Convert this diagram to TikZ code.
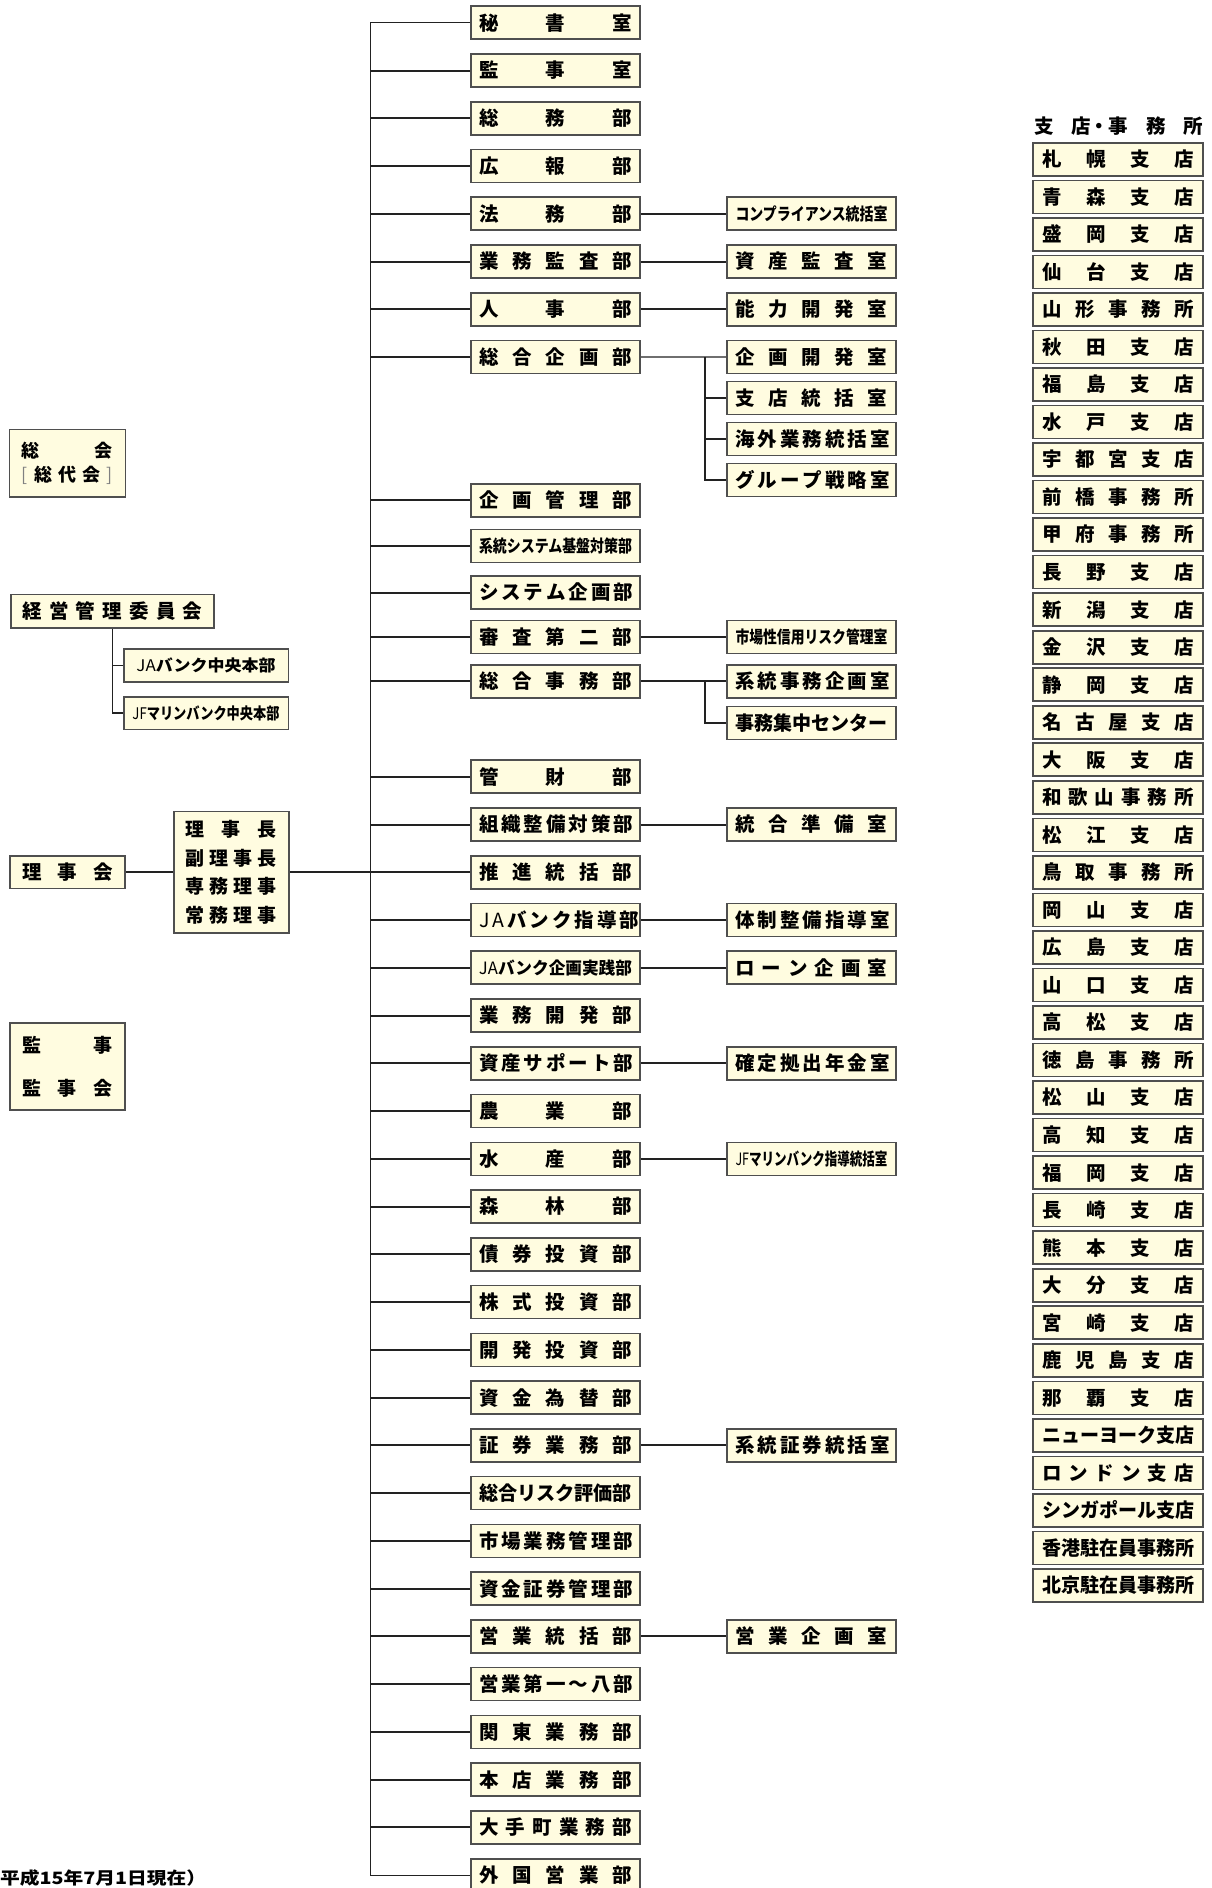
\documentclass[tikz,border=0pt]{standalone}
\usepackage{fontspec}
\usepackage{graphicx}
\setmainfont{Noto Sans CJK JP}
\definecolor{fillc}{HTML}{FFFCE0}
\definecolor{boxc}{HTML}{4F4F4F}
\definecolor{linec}{HTML}{222222}
\newcommand{\spr}[2]{\makebox[#1][s]{#2}}
\newcommand{\sqz}[2]{\resizebox{#1}{\height}{#2}}
\begin{document}
\begin{tikzpicture}[x=1pt,y=-1pt,
 box/.style={draw=boxc, fill=fillc, line width=1.6pt, inner sep=0pt, minimum height=33pt, font=\fontsize{19.5pt}{22pt}\selectfont\bfseries},
 mbox/.style={box, minimum width=169pt},
 rbox/.style={box, minimum width=170pt},
 sm/.style={font=\fontsize{17pt}{20pt}\selectfont\bfseries},
 conn/.style={draw=linec, line width=2pt},
 thinconn/.style={draw=linec!65, line width=1.2pt},
 trunkl/.style={draw=linec, line width=1.4pt}]
\useasboundingbox (0,0) rectangle (1211,1888);
\fill[white] (0,0) rectangle (1211,1888);

% ---------- main column ----------
\node[mbox] (m1) at (555.5,22.7) {\spr{153pt}{秘 書 室}};
\node[mbox] (m2) at (555.5,70.5) {\spr{153pt}{監 事 室}};
\node[mbox] (m3) at (555.5,118.2) {\spr{153pt}{総 務 部}};
\node[mbox] (m4) at (555.5,166.0) {\spr{153pt}{広 報 部}};
\node[mbox] (m5) at (555.5,213.7) {\spr{153pt}{法 務 部}};
\node[mbox] (m6) at (555.5,261.5) {\spr{153pt}{業 務 監 査 部}};
\node[mbox] (m7) at (555.5,309.3) {\spr{153pt}{人 事 部}};
\node[mbox] (m8) at (555.5,357.0) {\spr{153pt}{総 合 企 画 部}};
\node[mbox] (m9) at (555.5,500.3) {\spr{153pt}{企 画 管 理 部}};
\node[mbox,sm] (m10) at (555.5,545.8) {\sqz{153pt}{系統システム基盤対策部}};
\node[mbox] (m11) at (555.5,592.5) {\spr{153pt}{シ ス テ ム 企 画 部}};
\node[mbox] (m12) at (555.5,637.0) {\spr{153pt}{審 査 第 二 部}};
\node[mbox] (m13) at (555.5,681.3) {\spr{153pt}{総 合 事 務 部}};
\node[mbox] (m14) at (555.5,776.7) {\spr{153pt}{管 財 部}};
\node[mbox] (m15) at (555.5,824.5) {\spr{153pt}{組 織 整 備 対 策 部}};
\node[mbox] (m16) at (555.5,872.2) {\spr{153pt}{推 進 統 括 部}};
\node[mbox] (m17) at (555.5,920.0) {\spr{153pt}{{\mdseries J} {\mdseries A} バ ン ク 指 導 部}};
\node[mbox,sm] (m18) at (555.5,967.7) {\sqz{153pt}{{\mdseries JA}バンク企画実践部}};
\node[mbox] (m19) at (555.5,1015.5) {\spr{153pt}{業 務 開 発 部}};
\node[mbox] (m20) at (555.5,1063.3) {\spr{153pt}{資 産 サ ポ ー ト 部}};
\node[mbox] (m21) at (555.5,1111.0) {\spr{153pt}{農 業 部}};
\node[mbox] (m22) at (555.5,1158.8) {\spr{153pt}{水 産 部}};
\node[mbox] (m23) at (555.5,1206.5) {\spr{153pt}{森 林 部}};
\node[mbox] (m24) at (555.5,1254.3) {\spr{153pt}{債 券 投 資 部}};
\node[mbox] (m25) at (555.5,1302.1) {\spr{153pt}{株 式 投 資 部}};
\node[mbox] (m26) at (555.5,1349.8) {\spr{153pt}{開 発 投 資 部}};
\node[mbox] (m27) at (555.5,1397.6) {\spr{153pt}{資 金 為 替 部}};
\node[mbox] (m28) at (555.5,1445.3) {\spr{153pt}{証 券 業 務 部}};
\node[mbox] (m29) at (555.5,1493.1) {\sqz{153pt}{総合リスク評価部}};
\node[mbox] (m30) at (555.5,1540.9) {\spr{153pt}{市 場 業 務 管 理 部}};
\node[mbox] (m31) at (555.5,1588.6) {\spr{153pt}{資 金 証 券 管 理 部}};
\node[mbox] (m32) at (555.5,1636.4) {\spr{153pt}{営 業 統 括 部}};
\node[mbox] (m33) at (555.5,1684.1) {\spr{153pt}{営 業 第 一 ～ 八 部}};
\node[mbox] (m34) at (555.5,1731.9) {\spr{153pt}{関 東 業 務 部}};
\node[mbox] (m35) at (555.5,1779.7) {\spr{153pt}{本 店 業 務 部}};
\node[mbox] (m36) at (555.5,1827.4) {\spr{153pt}{大 手 町 業 務 部}};
\node[mbox] (m37) at (555.5,1875.2) {\spr{153pt}{外 国 営 業 部}};

% ---------- trunk ----------
\coordinate (tt) at (370.4,22.7);
\coordinate (tb) at (370.4,1875.2);
\draw[trunkl] (m1.west) -- (tt) -- (tb) -- (m37.west);
\foreach \n in {2,...,36} \draw[conn] (m\n.west) -- (m\n.west -| tt);

% ---------- sub offices ----------
\node[mbox,sm] (s5) at (811.5,213.7) {\sqz{152pt}{コンプライアンス統括室}};
\node[mbox] (s6) at (811.5,261.5) {\spr{152pt}{資 産 監 査 室}};
\node[mbox] (s7) at (811.5,309.3) {\spr{152pt}{能 力 開 発 室}};
\node[mbox] (s8a) at (811.5,357.0) {\spr{152pt}{企 画 開 発 室}};
\node[mbox] (s8b) at (811.5,398.0) {\spr{152pt}{支 店 統 括 室}};
\node[mbox] (s8c) at (811.5,439.0) {\spr{152pt}{海 外 業 務 統 括 室}};
\node[mbox] (s8d) at (811.5,480.0) {\spr{152pt}{グ ル ー プ 戦 略 室}};
\node[mbox,sm] (s12) at (811.5,637.0) {\sqz{152pt}{市場性信用リスク管理室}};
\node[mbox] (s13a) at (811.5,681.3) {\spr{152pt}{系 統 事 務 企 画 室}};
\node[mbox] (s13b) at (811.5,723.0) {\sqz{152pt}{事務集中センター}};
\node[mbox] (s15) at (811.5,824.5) {\spr{152pt}{統 合 準 備 室}};
\node[mbox] (s17) at (811.5,920.0) {\spr{152pt}{体 制 整 備 指 導 室}};
\node[mbox] (s18) at (811.5,967.7) {\spr{152pt}{ロ ー ン 企 画 室}};
\node[mbox] (s20) at (811.5,1063.3) {\spr{152pt}{確 定 拠 出 年 金 室}};
\node[mbox,sm] (s22) at (811.5,1158.8) {\sqz{152pt}{{\mdseries JF}マリンバンク指導統括室}};
\node[mbox] (s28) at (811.5,1445.3) {\spr{152pt}{系 統 証 券 統 括 室}};
\node[mbox] (s32) at (811.5,1636.4) {\spr{152pt}{営 業 企 画 室}};

\foreach \a/\b in {m5/s5,m6/s6,m7/s7,m12/s12,m13/s13a,m15/s15,m17/s17,m18/s18,m20/s20,m22/s22,m28/s28,m32/s32}
  \draw[conn] (\a.east) -- (\b.west);
\coordinate (bx) at (705,0);
\draw[thinconn] (m8.east) -- (s8a.west);
\draw[conn] (bx |- s8a.west) |- (s8d.west);
\foreach \s in {s8b,s8c} \draw[conn] (bx |- \s.west) -- (\s.west);
\draw[conn] (bx |- s13a.west) |- (s13b.west);

% ---------- left column ----------
\node[box, minimum width=116pt, minimum height=67.4pt, align=center,
      font=\fontsize{18pt}{24pt}\selectfont\bfseries] (sokai) at (67.3,463)
  {\spr{91pt}{総 会}\\\spr{91pt}{\textcolor{gray}{\mdseries [} 総 代 会 \textcolor{gray}{\mdseries ]}}};

\node[box, minimum width=203.3pt, minimum height=33.6pt] (kk) at (112.35,611.2) {\spr{180pt}{経 営 管 理 委 員 会}};
\node[box, minimum width=164.6pt, font=\fontsize{16pt}{18pt}\selectfont\bfseries] (ja) at (206,665.5) {\sqz{139pt}{{\mdseries JA}バンク中央本部}};
\node[box, minimum width=164.6pt, minimum height=32.6pt, font=\fontsize{16pt}{18pt}\selectfont\bfseries] (jf) at (206,713.1) {\sqz{147pt}{{\mdseries JF}マリンバンク中央本部}};
\draw[conn, line width=1.6pt] (kk.south) |- (jf.west);
\draw[conn, line width=1.6pt] (kk.south |- ja.west) -- (ja.west);

\node[box, minimum width=115pt, minimum height=32.4pt] (rk) at (67.5,872.2) {\spr{91pt}{理 事 会}};
\node[box, minimum width=115.3pt, minimum height=121.8pt, align=center,
      font=\fontsize{19pt}{28.6pt}\selectfont\bfseries] (rc) at (231.35,872.2)
  {\spr{91pt}{理 事 長}\\\spr{91pt}{副 理 事 長}\\\spr{91pt}{専 務 理 事}\\\spr{91pt}{常 務 理 事}};
\draw[conn] (rk.east) -- (rc.west);
\draw[conn] (rc.east) -- (rc.east -| tt);

\node[box, minimum width=115pt, minimum height=87pt, align=center,
      font=\fontsize{19pt}{42.4pt}\selectfont\bfseries] (kanji) at (67.5,1066.6)
  {\spr{91pt}{監 事}\\\spr{91pt}{監 事 会}};

\node[font=\fontsize{17pt}{20pt}\selectfont\bfseries, anchor=west, inner sep=0pt] (date) at (0,1878)
  {\sqz{206pt}{平成15年7月1日現在）}};

% ---------- branches ----------
\node[font=\fontsize{19.5pt}{22pt}\selectfont\bfseries, inner sep=0pt] (hdr) at (1118.5,126)
  {\spr{169pt}{支 店\rlap{\kern-1pt ・} 事 務 所}};

\foreach \t [count=\i from 0] in {
 {\spr{152pt}{札 幌 支 店}},{\spr{152pt}{青 森 支 店}},{\spr{152pt}{盛 岡 支 店}},{\spr{152pt}{仙 台 支 店}},
 {\spr{152pt}{山 形 事 務 所}},{\spr{152pt}{秋 田 支 店}},{\spr{152pt}{福 島 支 店}},{\spr{152pt}{水 戸 支 店}},
 {\spr{152pt}{宇 都 宮 支 店}},{\spr{152pt}{前 橋 事 務 所}},{\spr{152pt}{甲 府 事 務 所}},{\spr{152pt}{長 野 支 店}},
 {\spr{152pt}{新 潟 支 店}},{\spr{152pt}{金 沢 支 店}},{\spr{152pt}{静 岡 支 店}},{\spr{152pt}{名 古 屋 支 店}},
 {\spr{152pt}{大 阪 支 店}},{\spr{152pt}{和 歌 山 事 務 所}},{\spr{152pt}{松 江 支 店}},{\spr{152pt}{鳥 取 事 務 所}},
 {\spr{152pt}{岡 山 支 店}},{\spr{152pt}{広 島 支 店}},{\spr{152pt}{山 口 支 店}},{\spr{152pt}{高 松 支 店}},
 {\spr{152pt}{徳 島 事 務 所}},{\spr{152pt}{松 山 支 店}},{\spr{152pt}{高 知 支 店}},{\spr{152pt}{福 岡 支 店}},
 {\spr{152pt}{長 崎 支 店}},{\spr{152pt}{熊 本 支 店}},{\spr{152pt}{大 分 支 店}},{\spr{152pt}{宮 崎 支 店}},
 {\spr{152pt}{鹿 児 島 支 店}},{\spr{152pt}{那 覇 支 店}},{\sqz{152pt}{ニューヨーク支店}},{\spr{152pt}{ロ ン ド ン 支 店}},
 {\sqz{152pt}{シンガポール支店}},{\sqz{152pt}{香港駐在員事務所}},{\sqz{152pt}{北京駐在員事務所}}}
  \node[rbox] (r\i) at (1118,{159.3+37.53*\i}) {\t};
\end{tikzpicture}
\end{document}
